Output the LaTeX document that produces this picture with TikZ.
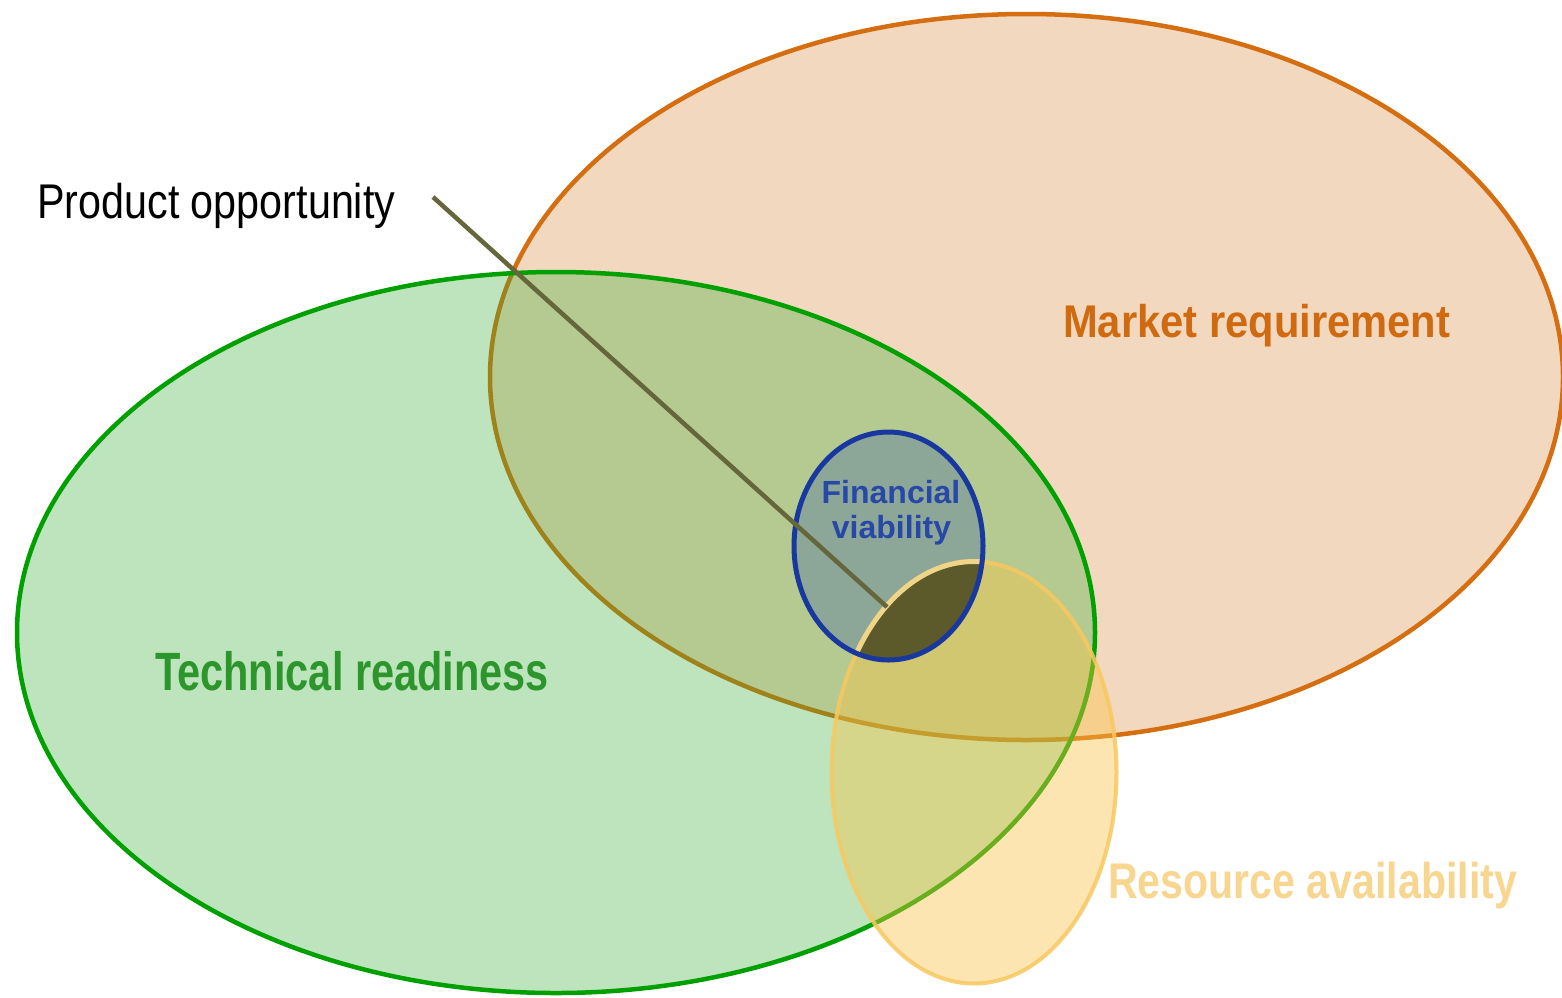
\documentclass[tikz,border=0pt]{standalone}
\usepackage{fontspec}
\setmainfont{Liberation Sans}
\usepackage{graphicx}
\definecolor{orFill}{RGB}{242,216,190}
\definecolor{orLine}{RGB}{212,110,16}
\definecolor{grFill}{RGB}{52,174,52}
\definecolor{grLine}{RGB}{0,160,0}
\definecolor{reFill}{RGB}{250,195,70}
\definecolor{reLine}{RGB}{248,200,96}
\definecolor{reInner}{RGB}{240,212,136}
\definecolor{blFill}{RGB}{140,166,152}
\definecolor{blLine}{RGB}{24,56,160}
\definecolor{darkOl}{RGB}{92,90,42}
\definecolor{poLine}{RGB}{102,102,60}
\definecolor{orText}{RGB}{208,106,16}
\definecolor{grText}{RGB}{44,150,44}
\definecolor{reText}{RGB}{248,214,144}
\definecolor{blText}{RGB}{40,72,168}
\begin{document}
\begin{tikzpicture}[x=1pt,y=-1pt,
  txt/.style={inner sep=0pt, anchor=base west},
  ctxt/.style={inner sep=0pt, anchor=base}]
\useasboundingbox (0,0) rectangle (1562,997);
\fill[white] (0,0) rectangle (1562,997);
% Market requirement
\draw[fill=orFill, draw=orLine, line width=4.5pt] (1026.5,377) ellipse [x radius=536.5, y radius=363];
% Technical readiness
\path[fill=grFill, fill opacity=0.32] (556,632.5) ellipse [x radius=539, y radius=360.5];
\draw[draw=grLine, line width=4.5pt] (556,632.5) ellipse [x radius=539, y radius=360.5];
% Resource availability
\path[fill=reFill, fill opacity=0.42] (974,772.5) ellipse [x radius=142.5, y radius=211];
\draw[draw=reLine, draw opacity=0.85, line width=4pt] (974,772.5) ellipse [x radius=142.5, y radius=211];
% Financial viability
\fill[blFill] (888.5,546) ellipse [x radius=94.5, y radius=114];
\begin{scope}
  \clip (888.5,546) ellipse [x radius=94.5, y radius=114];
  \fill[darkOl] (974,772.5) ellipse [x radius=142.5, y radius=211];
  \draw[reInner, line width=5pt] (974,772.5) ellipse [x radius=142.5, y radius=211];
\end{scope}
\draw[blLine, line width=5pt] (888.5,546) ellipse [x radius=94.5, y radius=114];
% Product opportunity pointer
\coordinate (ps) at (433,197);
\coordinate (pe) at (887,607);
\draw[poLine, line width=4.5pt] (ps) -- (pe);
% Labels
\node[txt, font=\fontsize{41.3}{48}\selectfont, text=black] (po) at (37,218) {\scalebox{1}[1.18]{Product opportunity}};
\node[txt, font=\fontsize{41.7}{48}\selectfont\bfseries, text=orText] (mr) at (1063,337) {\scalebox{1}[1.1]{Market requirement}};
\node[txt, font=\fontsize{41.5}{48}\selectfont\bfseries, text=grText] (tr) at (155,690) {\scalebox{1}[1.3]{Technical readiness}};
\node[txt, font=\fontsize{41.1}{48}\selectfont\bfseries, text=reText] (ra) at (1108,898) {\scalebox{1}[1.22]{Resource availability}};
\node[ctxt, font=\fontsize{32}{35}\selectfont\bfseries, text=blText] (fv1) at (891,503) {Financial};
\node[ctxt, font=\fontsize{32}{35}\selectfont\bfseries, text=blText] (fv2) at (891.5,538) {viability};
\end{tikzpicture}
\end{document}
